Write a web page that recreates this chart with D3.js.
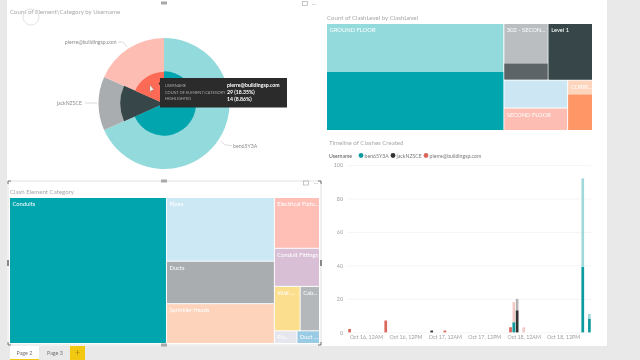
<!DOCTYPE html>
<html>
<head>
<meta charset="utf-8">
<script src="https://cdn.jsdelivr.net/npm/d3@7"></script>
<style>
    html, body { margin: 0; padding: 0; background: #e9e9e9; overflow: hidden; }
    svg { display: block; font-family: Lato, "Open Sans", sans-serif; filter: blur(0.45px); }
    .title { font-size: 6.1px; fill: #a8a8a8; }
    .tile-label { font-size: 5.8px; fill: #fff; }
    .tick text { font-size: 5.3px; fill: #a0a0a0; font-family: Lato, sans-serif; }
    .tick line { stroke: #f1f1f1; stroke-width: 0.7; }
    .domain { display: none; }
    .legend { font-size: 5.2px; fill: #7a7a7a; }
    .pie-label { font-size: 5.2px; fill: #8c8c8c; }
    .tip-key { font-size: 3.9px; fill: #a6a6a6; }
    .tip-val { font-size: 5.2px; fill: #fff; font-weight: 700; }
    .tab { font-size: 5.4px; fill: #777; }
</style>
</head>
<body>
<div id="chart"></div>
<script>
// pie: count and highlighted count per user
const users = ['ben65Y3A', 'jackNZSCE', 'pierre@buildingsp.com'];
const userCounts = [108, 21, 29];
const userHighlights = [53, 14, 14];
const userLight = ['#93dadc', '#a9adb0', '#fdbdb3'];
const userDark = ['#01a5ad', '#374649', '#fd6a55'];

// treemap top right
const levels = ['GROUND FLOOR', '302 - SECON...', 'Level 1', '', 'SECOND FLOOR', 'CORRI...'];
const levelCounts = [106, 14, 14, 10, 8, 7];
const levelHighlights = [58, 4, 14, 0, 0, 5];
const levelLight = ['#93dadc', '#babec1', '#374649', '#cce7f3', '#fdbdb3', '#fdd4bc'];
const levelDark = ['#01a5ad', '#5c6468', '#374649', '#cce7f3', '#fdbdb3', '#fe9666'];

// treemap bottom left
const categories = ['Conduits', 'Pipes', 'Ducts', 'Sprinkler Heads', 'Electrical Fixtu...', 'Conduit Fittings', 'Wall ...', 'Cab...', 'Plu...', 'Duct ...'];
const categoryCounts = [80, 24, 16, 15, 8, 6, 4, 3, 1, 1];
const categoryColors = ['#01a5ad', '#cce8f4', '#a9adb0', '#fdd3bb', '#ffbfb6', '#d9bfd6', '#fbde8e', '#b4b8ba', '#e6e6ee', '#99cbe4'];

// timeline
const slots = ['2017-10-15T19:00', '2017-10-16T06:00', '2017-10-16T20:00', '2017-10-17T00:00', '2017-10-17T20:00', '2017-10-17T21:00', '2017-10-17T22:00', '2017-10-18T00:00', '2017-10-18T18:00', '2017-10-18T20:00'];
const benTotal = [0, 0, 0, 0, 0, 6, 0, 0, 92, 11];
const benShown = [0, 0, 0, 0, 0, 6, 0, 0, 39, 8];
const jackTotal = [0, 0, 1, 0, 0, 0, 20, 0, 0, 0];
const jackShown = [0, 0, 1, 0, 0, 0, 13, 0, 0, 0];
const pierreTotal = [2, 7, 0, 1, 3, 12, 0, 3, 0, 0];
const pierreShown = [2, 7, 0, 1, 3, 0, 0, 0, 0, 0];
const timeTicks = ['2017-10-16T00:00', '2017-10-16T12:00', '2017-10-17T00:00', '2017-10-17T12:00', '2017-10-18T00:00', '2017-10-18T12:00'];
const yTicks = [0, 20, 40, 60, 80, 100];
const timeColors = { light: ['#9fd8da', '#b5b5b5', '#f5c9c3'], dark: ['#0f9aa0', '#333333', '#d9675c'] };

const svg = d3.select('#chart').append('svg').attr('width', 640).attr('height', 360);

// canvas
svg.append('rect').attr('x', -2).attr('y', -2).attr('width', 644).attr('height', 364).attr('fill', '#e9e9e9');
svg.append('rect').attr('x', 7).attr('y', -2).attr('width', 600).attr('height', 348).attr('fill', '#fff');

function title(text, x, y) {
    svg.append('text').attr('class', 'title').attr('x', x).attr('y', y).text(text);
}

title('Count of Element\\Category by Username', 10, 14);
title('Count of ClashLevel by ClashLevel', 327, 20);
title('Timeline of Clashes Created', 329, 145);
title('Clash Element Category', 10, 194);

drawPie();
drawLevels();
drawCategories();
drawTimeline();
drawChrome();

function drawPie() {
    const radius = 65.5;
    const g = svg.append('g').attr('transform', 'translate(164,103.5)');
    const pie = d3.pie().sort(null)(userCounts);
    const arc = d3.arc().innerRadius(0);
    const inner = d3.scaleLinear().domain([0, 1]).range([0, radius]);

    g.selectAll('path.whole')
        .data(pie)
        .enter().append('path')
        .attr('class', 'whole')
        .attr('fill', (d, i) => userLight[i])
        .attr('d', d => arc.outerRadius(radius)(d));

    g.selectAll('path.part')
        .data(pie)
        .enter().append('path')
        .attr('class', 'part')
        .attr('fill', (d, i) => userDark[i])
        .attr('d', (d, i) => arc.outerRadius(inner(userHighlights[i] / userCounts[i]))(d));

    // outside labels with their leaders
    const labelPos = [[233, 147.5, 'start'], [82, 105, 'end'], [116.5, 44, 'end']];
    const leaders = [[[221, 141], [225, 145], [232, 145.5]], [[85, 103], [97, 103]], [[118, 42], [123, 42], [127, 47]]];
    users.forEach((u, i) => {
        svg.append('text').attr('class', 'pie-label')
            .attr('x', labelPos[i][0]).attr('y', labelPos[i][1])
            .attr('text-anchor', labelPos[i][2])
            .text(u);
        svg.append('path')
            .attr('d', d3.line()(leaders[i]))
            .attr('fill', 'none').attr('stroke', '#c4c4c4').attr('stroke-width', 0.6);
    });

    // tooltip
    const tip = svg.append('g').attr('transform', 'translate(160,78)');
    tip.append('rect').attr('width', 127).attr('height', 29.5).attr('fill', '#2b2b2b');
    const keys = ['USERNAME', 'COUNT OF ELEMENT\\CATEGORY', 'HIGHLIGHTED'];
    const vals = ['pierre@buildingsp.com', '29 (18.35%)', '14 (8.86%)'];
    keys.forEach((k, i) => {
        tip.append('text').attr('class', 'tip-key').attr('x', 5).attr('y', 9 + i * 6.7).text(k);
        tip.append('text').attr('class', 'tip-val').attr('x', 67).attr('y', 9.4 + i * 6.7).text(vals[i]);
    });
    svg.append('circle').attr('cx', 160.5).attr('cy', 83.5).attr('r', 1.6).attr('fill', '#2b2b2b');
    svg.append('path').attr('d', 'M150,85 L150,92 L152,90 L154,90 Z').attr('fill', '#f4f4f4').attr('stroke', '#777').attr('stroke-width', 0.3);

    // click ring under the title
    svg.append('circle').attr('cx', 31).attr('cy', 17).attr('r', 8).attr('fill', 'none').attr('stroke', '#e4e4e4').attr('stroke-width', 1);
}

function layout(names, counts, x0, y0, x1, y1) {
    const root = d3.hierarchy({ children: names.map((name, i) => ({ name: name, value: counts[i], index: i })) })
        .sum(d => d.value || 0);
    d3.treemap().tile(d3.treemapSquarify).size([x1 - x0, y1 - y0]).paddingInner(1)(root);
    return root.leaves();
}

function drawLevels() {
    const g = svg.append('g').attr('transform', 'translate(327,24)');
    const leaves = layout(levels, levelCounts, 327, 24, 592, 130);
    const cell = g.selectAll('g').data(leaves).enter().append('g')
        .attr('transform', d => `translate(${d.x0},${d.y0})`);
    cell.append('rect')
        .attr('width', d => d.x1 - d.x0)
        .attr('height', d => d.y1 - d.y0)
        .attr('fill', d => levelLight[d.data.index]);
    cell.append('rect')
        .attr('y', d => (d.y1 - d.y0) * (1 - levelHighlights[d.data.index] / d.data.value))
        .attr('width', d => d.x1 - d.x0)
        .attr('height', d => (d.y1 - d.y0) * levelHighlights[d.data.index] / d.data.value)
        .attr('fill', d => levelDark[d.data.index]);
    cell.append('text').attr('class', 'tile-label').attr('x', 2.5).attr('y', 8)
        .text(d => d.data.name);
}

function drawCategories() {
    const g = svg.append('g').attr('transform', 'translate(10,198)');
    const leaves = layout(categories, categoryCounts, 10, 198, 319, 343);
    const cell = g.selectAll('g').data(leaves).enter().append('g')
        .attr('transform', d => `translate(${d.x0},${d.y0})`);
    cell.append('rect')
        .attr('width', d => d.x1 - d.x0)
        .attr('height', d => d.y1 - d.y0)
        .attr('fill', d => categoryColors[d.data.index]);
    cell.append('text').attr('class', 'tile-label').attr('x', 2.5).attr('y', 8)
        .text(d => d.data.name);
}

function drawTimeline() {
    const parse = d3.timeParse('%Y-%m-%dT%H:%M');
    const x = d3.scaleTime()
        .domain([parse('2017-10-15T18:30'), parse('2017-10-18T20:30')])
        .range([348, 591]);
    const y = d3.scaleLinear().domain([0, 100]).range([332.3, 165]);

    svg.append('g').attr('transform', 'translate(348,0)')
        .call(d3.axisLeft(y).tickValues(yTicks).tickSize(-243).tickPadding(5));
    svg.append('g').attr('transform', 'translate(0,332.3)')
        .call(d3.axisBottom(x).tickValues(timeTicks.map(parse)).tickSize(0).tickPadding(3)
            .tickFormat(d3.timeFormat('%b %d, %I%p')));

    const rows = slots.map((s, i) => ({ t: parse(s), 0: benTotal[i], 1: jackTotal[i], 2: pierreTotal[i] }));
    const shown = [benShown, jackShown, pierreShown];
    const series = d3.stack().keys([0, 1, 2])(rows);
    const barWidth = 2.6;

    series.forEach((s, k) => {
        const g = svg.append('g');
        g.selectAll('rect.total').data(s).enter().append('rect')
            .attr('class', 'total')
            .attr('x', d => x(d.data.t) - barWidth / 2)
            .attr('y', d => y(d[1]))
            .attr('width', barWidth)
            .attr('height', d => y(d[0]) - y(d[1]))
            .attr('fill', timeColors.light[k]);
        g.selectAll('rect.shown').data(s).enter().append('rect')
            .attr('class', 'shown')
            .attr('x', d => x(d.data.t) - barWidth / 2)
            .attr('y', (d, i) => y(d[0] + shown[k][i]))
            .attr('width', barWidth)
            .attr('height', (d, i) => y(d[0]) - y(d[0] + shown[k][i]))
            .attr('fill', timeColors.dark[k]);
    });

    // legend
    svg.append('text').attr('class', 'legend').attr('x', 329).attr('y', 157.5)
        .style('fill', '#555').text('Username');
    const legendX = [361, 393, 426];
    users.forEach((u, i) => {
        svg.append('circle').attr('cx', legendX[i]).attr('cy', 155.5).attr('r', 2.4).attr('fill', timeColors.dark[i]);
        svg.append('text').attr('class', 'legend').attr('x', legendX[i] + 3.5).attr('y', 157.5).text(u);
    });
}

function drawChrome() {
    // focus frame round the selected visual
    svg.append('rect').attr('x', 8).attr('y', 181).attr('width', 313).attr('height', 164)
        .attr('fill', 'none').attr('stroke', '#d4d4d4').attr('stroke-width', 0.7);
    const corners = [[8, 181, 1, 1], [321, 181, -1, 1], [8, 345, 1, -1], [321, 345, -1, -1]];
    corners.forEach(c => {
        svg.append('path')
            .attr('d', d3.line()([[c[0], c[1] + 3 * c[3]], [c[0], c[1]], [c[0] + 3 * c[2], c[1]]]))
            .attr('fill', 'none').attr('stroke', '#777').attr('stroke-width', 1);
    });
    [[164, 3], [164, 181], [164, 345]].forEach(p => {
        svg.append('rect').attr('x', p[0] - 3).attr('y', p[1] - 1.5).attr('width', 6).attr('height', 3).attr('fill', '#a8a8a8');
    });
    [[8, 263], [321, 263]].forEach(p => {
        svg.append('rect').attr('x', p[0] - 1).attr('y', p[1] - 3).attr('width', 2).attr('height', 6).attr('fill', '#888');
    });
    [[305, 3.5], [306, 183]].forEach(p => {
        svg.append('rect').attr('x', p[0] - 2.5).attr('y', p[1] - 2).attr('width', 5).attr('height', 4)
            .attr('fill', 'none').attr('stroke', '#b0b0b0').attr('stroke-width', 0.7);
    });
    [[314, 3.5], [316, 183]].forEach(p => {
        svg.append('text').attr('x', p[0]).attr('y', p[1] + 1).attr('text-anchor', 'middle')
            .attr('font-size', 6).attr('fill', '#999').text('...');
    });

    // page tabs
    svg.append('rect').attr('x', 10).attr('y', 346).attr('width', 29).attr('height', 14).attr('fill', '#fff');
    svg.append('rect').attr('x', 10).attr('y', 359).attr('width', 29).attr('height', 1).attr('fill', '#f2c811');
    svg.append('text').attr('class', 'tab').attr('x', 24.5).attr('y', 355).attr('text-anchor', 'middle').text('Page 2');
    svg.append('text').attr('class', 'tab').attr('x', 55).attr('y', 355).attr('text-anchor', 'middle').text('Page 3');
    svg.append('rect').attr('x', 70).attr('y', 346).attr('width', 15).attr('height', 14).attr('fill', '#f2c811');
    svg.append('text').attr('x', 77.5).attr('y', 356).attr('text-anchor', 'middle')
        .attr('font-size', 9).attr('fill', '#a8860a').text('+');
}
</script>
</body>
</html>
